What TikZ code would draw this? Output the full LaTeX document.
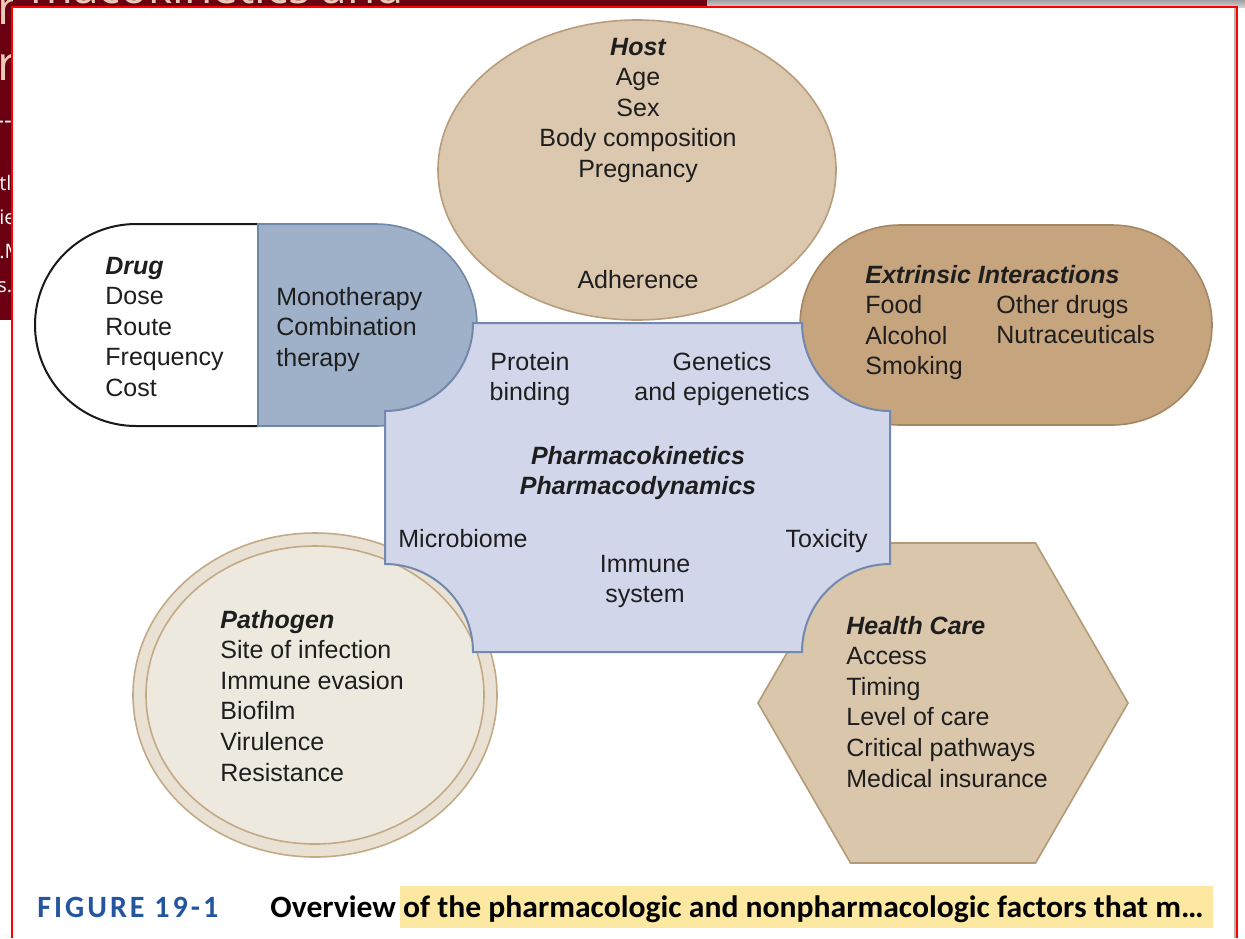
\documentclass[tikz,border=0pt]{standalone}
\usepackage{fontspec}
\usepackage{graphicx}
\setmainfont{Liberation Sans}
\newfontfamily\capfont{Carlito}
\newfontfamily\thinfont{Open Sans}
\definecolor{maroon}{HTML}{6B0012}
\definecolor{peach}{HTML}{EBCBB6}
\definecolor{txt}{HTML}{1E1E1E}
\definecolor{hostfill}{HTML}{DCC8AF}
\definecolor{hostline}{HTML}{B89C7C}
\definecolor{drugfill}{HTML}{9FB1C9}
\definecolor{drugline}{HTML}{7088A8}
\definecolor{extfill}{HTML}{C6A47E}
\definecolor{extline}{HTML}{A58663}
\definecolor{cenfill}{HTML}{D2D6EA}
\definecolor{cenline}{HTML}{7289AD}
\definecolor{pathout}{HTML}{E9E1D3}
\definecolor{pathin}{HTML}{EDE9DF}
\definecolor{pathline}{HTML}{C3AA85}
\definecolor{hexfill}{HTML}{D9C6AB}
\definecolor{hexline}{HTML}{B49A78}
\definecolor{figblue}{HTML}{2456A0}
\definecolor{hilite}{HTML}{FDE8A2}
\newcommand{\hd}[1]{{\bfseries\itshape #1}}
\tikzset{
  lbl/.style={font=\fontsize{12.5}{15.3}\selectfont, text=txt, inner sep=0pt},
  shapeline/.style={line width=0.8pt},
}
\begin{document}
\begin{tikzpicture}[x=0.5pt,y=0.5pt]
\useasboundingbox (0,0) rectangle (1245,-938);
\fill[white] (0,0) rectangle (1245,-938);
% background screenshot parts
\fill[maroon] (0,0) rectangle (707,-7);
\fill[top color=gray!75, bottom color=gray!35] (707,0) rectangle (1245,-7);
\fill[maroon] (0,0) rectangle (12,-320);
\begin{scope}
  \clip (0,0) rectangle (707,-7);
  \node[anchor=base west, inner sep=0pt, text=peach, font=\thinfont\fontsize{23}{23}\selectfont] (bgtitle) at (30,-3) {macokinetics and};
\end{scope}
\begin{scope}
  \clip (0,0) rectangle (12,-320);
  \node[anchor=base west, inner sep=0pt, text=peach, font=\thinfont\fontsize{24}{24}\selectfont] (bgr1) at (-3,-24) {r};
  \node[anchor=base west, inner sep=0pt, text=peach, font=\thinfont\fontsize{24}{24}\selectfont] (bgr2) at (-3,-80) {r};
  \node[anchor=base west, inner sep=0pt, text=white, font=\thinfont\fontsize{12}{12}\selectfont] (bgd) at (-4,-128) {--};
  \node[anchor=base west, inner sep=0pt, text=white!90!peach, font=\thinfont\fontsize{10}{10}\selectfont] (bg1) at (-1,-190) {tl};
  \node[anchor=base west, inner sep=0pt, text=white!90!peach, font=\thinfont\fontsize{10}{10}\selectfont] (bg2) at (-1,-224) {ie};
  \node[anchor=base west, inner sep=0pt, text=white!90!peach, font=\thinfont\fontsize{10}{10}\selectfont] (bg3) at (-1,-258) {.M};
  \node[anchor=base west, inner sep=0pt, text=white!90!peach, font=\thinfont\fontsize{10}{10}\selectfont] (bg4) at (-3,-292) {s.};
\end{scope}
% panel
\fill[white] (12,-7) rectangle (1237,-938);
\draw[gray!60, line width=0.8pt] (1235,-7) -- (1235,-938);
\draw[red, line width=1pt] (12,-938) -- (12,-7) -- (1237,-7) -- (1237,-938);

% Host ellipse
\filldraw[shapeline, fill=hostfill, draw=hostline] (637,-170) ellipse [x radius=99.5pt, y radius=75pt];
% Drug capsule
\fill[white] (258,-224) -- (136,-224) arc[start angle=90, end angle=270, radius=50.5pt] -- (258,-426) -- cycle;
\draw[line width=1pt, black!90] (258,-224) -- (136,-224) arc[start angle=90, end angle=270, radius=50.5pt] -- (258,-426);
\filldraw[shapeline, fill=drugfill, draw=drugline] (258,-224) -- (376,-224) arc[start angle=90, end angle=-90, radius=50.5pt] -- (258,-426) -- cycle;
% Extrinsic stadium
\filldraw[shapeline, fill=extfill, draw=extline] (900,-225) -- (1112,-225) arc[start angle=90, end angle=-90, radius=50pt] -- (900,-425) arc[start angle=270, end angle=90, radius=50pt] -- cycle;
% Pathogen
\filldraw[shapeline, fill=pathout, draw=pathline] (315,-695) ellipse [x radius=91pt, y radius=81pt];
\filldraw[shapeline, fill=pathin, draw=pathline] (315,-695) ellipse [x radius=84.5pt, y radius=74.5pt];
% Health care hexagon
\filldraw[shapeline, fill=hexfill, draw=hexline] (1128,-703) -- (1035.5,-543) -- (850.5,-543) -- (758,-703) -- (850.5,-863) -- (1035.5,-863) -- cycle;
% Central shape
\filldraw[line width=1pt, fill=cenfill, draw=cenline]
  (473,-323) -- (802,-323) arc[start angle=180, end angle=270, radius=44pt]
  -- (890,-564) arc[start angle=90, end angle=180, radius=44pt]
  -- (473,-652) arc[start angle=0, end angle=90, radius=44pt]
  -- (385,-411) arc[start angle=270, end angle=360, radius=44pt] -- cycle;

% texts (anchor base = baseline of the last line)
\node[lbl, align=center, anchor=base] (host) at (638,-177.4) {\hd{Host}\\Age\\Sex\\Body composition\\Pregnancy};
\node[lbl, anchor=base] (adh) at (638,-288) {Adherence};
\node[lbl, align=left, anchor=base west] (drug) at (105,-396.4) {\hd{Drug}\\Dose\\Route\\Frequency\\Cost};
\node[lbl, align=left, anchor=base west] (mono) at (276,-366.2) {Monotherapy\\Combination\\therapy};
\node[lbl, align=left, anchor=base west] (ext) at (865,-374.8) {\hd{Extrinsic Interactions}\\Food\\Alcohol\\Smoking};
\node[lbl, align=left, anchor=base west] (ext2) at (996,-343.6) {Other drugs\\Nutraceuticals};
\node[lbl, align=center, anchor=base] (prot) at (530,-400.6) {Protein\\binding};
\node[lbl, align=center, anchor=base] (gen) at (722,-400.6) {Genetics\\and epigenetics};
\node[lbl, align=center, anchor=base] (pk) at (638,-494.6) {\hd{Pharmacokinetics}\\\hd{Pharmacodynamics}};
\node[lbl, anchor=base west] (micro) at (398,-547) {Microbiome};
\node[lbl, anchor=base east] (tox) at (868,-547) {Toxicity};
\node[lbl, align=center, anchor=base] (imm) at (645,-602.6) {Immune\\system};
\node[lbl, align=left, anchor=base west] (path) at (220,-781) {\hd{Pathogen}\\Site of infection\\Immune evasion\\Biofilm\\Virulence\\Resistance};
\node[lbl, align=left, anchor=base west] (hc) at (846,-787) {\hd{Health Care}\\Access\\Timing\\Level of care\\Critical pathways\\Medical insurance};

% caption
\fill[hilite] (400,-886) rectangle (1213,-928);
\node[anchor=base west, inner sep=0pt, text=figblue] (fig) at (37,-917)
  {\resizebox{90.5pt}{\height}{\capfont\bfseries\fontsize{15.5}{16}\selectfont\addfontfeatures{LetterSpace=10}FIGURE 19-1}};
\node[anchor=base west, inner sep=0pt, text=black] (cap) at (270,-917)
  {\resizebox{466.5pt}{\height}{\capfont\bfseries\fontsize{15.5}{16}\selectfont Overview of the pharmacologic and nonpharmacologic factors that m…}};
\end{tikzpicture}
\end{document}
